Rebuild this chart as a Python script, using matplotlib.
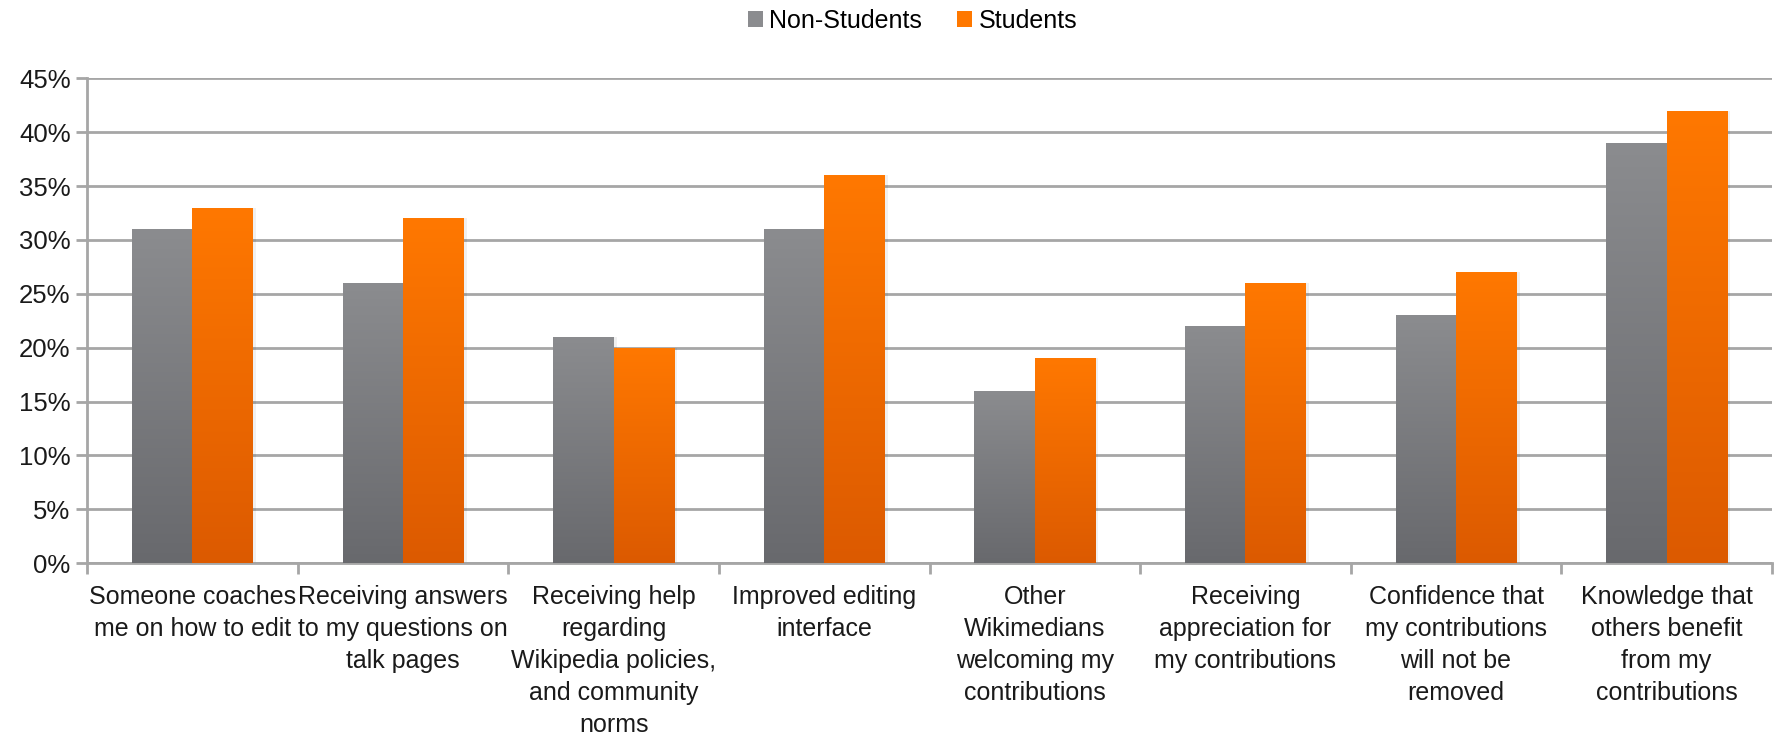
import numpy as np
import matplotlib.pyplot as plt
from matplotlib.colors import LinearSegmentedColormap
from matplotlib.ticker import PercentFormatter, MultipleLocator

plt.rcParams['font.family'] = ['Liberation Sans', 'DejaVu Sans']

categories = [
    "Someone coaches\nme on how to edit",
    "Receiving answers\nto my questions on\ntalk pages",
    "Receiving help\nregarding\nWikipedia policies,\nand community\nnorms",
    "Improved editing\ninterface",
    "Other\nWikimedians\nwelcoming my\ncontributions",
    "Receiving\nappreciation for\nmy contributions",
    "Confidence that\nmy contributions\nwill not be\nremoved",
    "Knowledge that\nothers benefit\nfrom my\ncontributions",
]
non_students = [31, 26, 21, 31, 16, 22, 23, 39]
students = [33, 32, 20, 36, 19, 26, 27, 42]

gray_top, gray_bot = "#8b8c8f", "#68696d"
orange_top, orange_bot = "#ff7800", "#dc5a00"
grid_col = "#a6a6a6"

fig = plt.figure(figsize=(17.79, 7.39), dpi=100)
ax = fig.add_axes([0.049, 0.238, 0.947, 0.656])

x = np.arange(len(categories))
w = 0.287


def gradient_bars(ax, xs, vals, top, bot, label):
    bars = ax.bar(xs, vals, w, color=top, label=label, zorder=3)
    cmap = LinearSegmentedColormap.from_list("g", [bot, top])
    grad = np.linspace(0, 1, 256).reshape(-1, 1)
    for b in bars:
        x0, y0 = b.get_x(), b.get_y()
        # soft shadow to the right
        ax.bar(x0 + b.get_width() / 2 + 0.015, b.get_height(), b.get_width(),
               color="#000000", alpha=0.06, zorder=2)
        im = ax.imshow(grad, cmap=cmap, aspect="auto", origin="lower",
                       extent=[x0, x0 + b.get_width(), y0, y0 + b.get_height()],
                       zorder=3.5)
        im.set_clip_path(b)
    return bars


gradient_bars(ax, x - w / 2, non_students, gray_top, gray_bot, "Non-Students")
gradient_bars(ax, x + w / 2, students, orange_top, orange_bot, "Students")

ax.set_xlim(-0.5, len(categories) - 0.5)
ax.set_ylim(0, 45)
ax.yaxis.set_major_locator(MultipleLocator(5))
ax.yaxis.set_major_formatter(PercentFormatter(decimals=0))
ax.grid(axis="y", color=grid_col, linewidth=2, zorder=1)
ax.set_axisbelow(True)

for s in ["top", "right"]:
    ax.spines[s].set_visible(False)
for s in ["left", "bottom"]:
    ax.spines[s].set_color(grid_col)
    ax.spines[s].set_linewidth(2)

ax.set_xticks(x)
ax.set_xticklabels(categories, fontsize=18, color="#1a1a1a", linespacing=1.42)
ax.tick_params(axis="x", which="major", length=0, pad=16)
ax.set_xticks(np.arange(len(categories) + 1) - 0.5, minor=True)
ax.tick_params(axis="x", which="minor", length=8, width=2, color=grid_col)
ax.tick_params(axis="y", length=8, width=2, color=grid_col, labelsize=18.5,
               labelcolor="#1a1a1a", pad=4)

ax.legend(loc="center", bbox_to_anchor=(0.49, 1.118), ncol=2,
          frameon=False, fontsize=18, handlelength=0.6, handleheight=0.6,
          handletextpad=0.25, columnspacing=1.4)

fig.savefig("out.png", dpi=100)
